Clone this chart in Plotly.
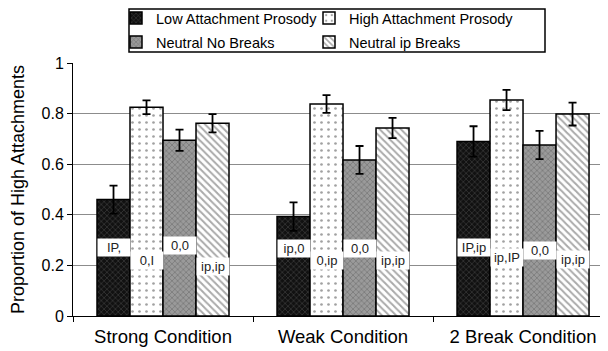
import plotly.graph_objects as go

categories = ["Strong Condition", "Weak Condition", "2 Break Condition"]
series_names = ["Low Attachment Prosody", "High Attachment Prosody",
                "Neutral No Breaks", "Neutral ip Breaks"]

low_vals = [0.46, 0.393, 0.69]
low_err = [0.055, 0.056, 0.06]
high_vals = [0.825, 0.838, 0.854]
high_err = [0.027, 0.035, 0.04]
noneutral_vals = [0.695, 0.617, 0.676]
noneutral_err = [0.042, 0.055, 0.056]
ipneutral_vals = [0.762, 0.743, 0.798]
ipneutral_err = [0.036, 0.04, 0.045]

low_labels = ["IP,", "ip,0", "IP,ip"]
high_labels = ["0,I", "0,ip", "ip,IP"]
noneutral_labels = ["0,0", "0,0", "0,0"]
ipneutral_labels = ["ip,ip", "ip,ip", "ip,ip"]

low_label_y = [0.27, 0.265, 0.27]
high_label_y = [0.22, 0.22, 0.23]
noneutral_label_y = [0.28, 0.265, 0.26]
ipneutral_label_y = [0.195, 0.22, 0.225]

values = [low_vals, high_vals, noneutral_vals, ipneutral_vals]
errors = [low_err, high_err, noneutral_err, ipneutral_err]
labels = [low_labels, high_labels, noneutral_labels, ipneutral_labels]
label_ys = [low_label_y, high_label_y, noneutral_label_y, ipneutral_label_y]

patterns = [
    dict(shape="x", bgcolor="#111111", fgcolor="#6a6a6a", size=4, solidity=0.3),
    dict(shape=".", bgcolor="white", fgcolor="#444444", size=7, solidity=0.12),
    dict(shape="x", bgcolor="#9a9a9a", fgcolor="#555555", size=4, solidity=0.35),
    dict(shape="\\", bgcolor="white", fgcolor="#555555", size=5, solidity=0.4),
]
legend_ids = ["legend", "legend2", "legend3", "legend4"]

FONT = "Liberation Sans, Arial, sans-serif"
BARGAP = 0.2667
n_series = len(series_names)
bar_w = (1 - BARGAP) / n_series

# The page body has an 8px margin; work in screen coordinates and subtract it.
OFF = 8
W, H = 608 - OFF, 351 - OFF
# plot area in screen px: x 73..608, y 63..316
PL, PR, PT, PB = 73, 608, 63, 316
def px_x(p):
    return (p - PL) / (PR - PL)
def px_y(p):
    return (PB - p) / (PB - PT)

fig = go.Figure()
for j in range(n_series):
    fig.add_trace(go.Bar(
        x=categories, y=values[j], name=series_names[j],
        marker=dict(color=patterns[j]["bgcolor"], pattern=patterns[j],
                    line=dict(color="black", width=1.5)),
        error_y=dict(type="data", array=errors[j], color="black",
                     thickness=1.8, width=4),
        legend=legend_ids[j], showlegend=True,
    ))

annotations = []
for j in range(n_series):
    for i in range(len(categories)):
        annotations.append(dict(
            x=i + (j - (n_series - 1) / 2) * bar_w, y=label_ys[j][i],
            xref="x", yref="y", text=labels[j][i], showarrow=False,
            font=dict(family=FONT, size=13, color="#222"),
            bgcolor="white", width=30, borderpad=1,
        ))

legend_common = dict(orientation="v", xanchor="left", yanchor="middle",
                     itemwidth=30, font=dict(size=14.5, family=FONT),
                     bgcolor="rgba(0,0,0,0)", borderwidth=0, visible=True)
# legend item: text starts ~41px right of legend x
col_x = [157 - 41, 350 - 41]
row_y = [18, 42]

fig.update_layout(
    width=W, height=H, showlegend=True,
    margin=dict(l=PL - OFF, r=0, t=PT - OFF, b=H - (PB - OFF), autoexpand=False),
    paper_bgcolor="white", plot_bgcolor="white",
    barmode="group", bargap=BARGAP, bargroupgap=0,
    font=dict(family=FONT, color="black"),
    annotations=annotations,
    legend=dict(x=px_x(col_x[0]), y=px_y(row_y[0]), **legend_common),
    legend2=dict(x=px_x(col_x[1]), y=px_y(row_y[0]), **legend_common),
    legend3=dict(x=px_x(col_x[0]), y=px_y(row_y[1]), **legend_common),
    legend4=dict(x=px_x(col_x[1]), y=px_y(row_y[1]), **legend_common),
    shapes=[dict(type="rect", xref="paper", yref="paper",
                 x0=px_x(129), x1=px_x(545),
                 y0=px_y(52), y1=px_y(9),
                 line=dict(color="black", width=1.5), fillcolor="rgba(0,0,0,0)")],
)

fig.update_xaxes(
    range=[-0.5, 2.472], showline=True, linecolor="black", linewidth=1,
    ticks="outside", tickson="boundaries", ticklen=5, tickcolor="black",
    tickfont=dict(size=18.5, family=FONT), showgrid=False, automargin=False,
    ticklabelstandoff=4,
)
fig.update_yaxes(
    range=[0, 1], dtick=0.2, showline=True, linecolor="black", linewidth=1,
    ticks="outside", ticklen=5, tickcolor="black",
    showgrid=True, gridcolor="#8c8c8c", gridwidth=1, zeroline=False,
    tickfont=dict(size=16, family=FONT), automargin=False,
    title=dict(text="Proportion of High Attachments", font=dict(size=18, family=FONT),
               standoff=15),
)

fig.write_html("out.html")
